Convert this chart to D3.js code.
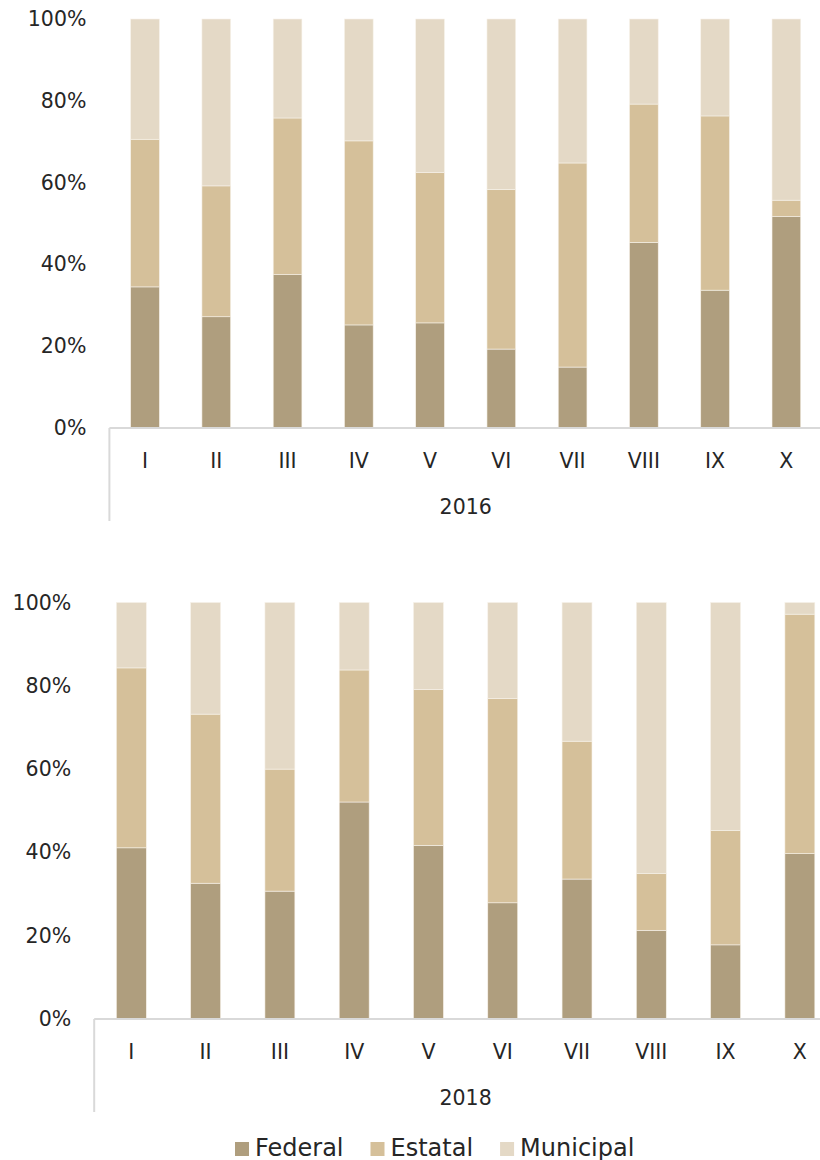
<!DOCTYPE html>
<html>
<head>
<meta charset="utf-8">
<script src="https://cdn.jsdelivr.net/npm/d3@7"></script>
<style>
  html, body { margin: 0; padding: 0; background: #ffffff; }
  svg { display: block; }
  text { font-family: "DejaVu Sans", "Noto Sans", sans-serif; fill: #262626; }
</style>
</head>
<body>
<svg id="chart" width="820" height="1160"></svg>
<script>
// Regions (Roman numerals) shared by both panels
const categories = ["I", "II", "III", "IV", "V", "VI", "VII", "VIII", "IX", "X"];
const seriesNames = ["Federal", "Estatal", "Municipal"];
const yTicks = [0, 0.2, 0.4, 0.6, 0.8, 1];

// Share of spending by level of government, 2016 (%)
const federal2016   = [34.5, 27.2, 37.5, 25.2, 25.7, 19.3, 14.9, 45.4, 33.7, 51.7];
const estatal2016   = [36.1, 32.0, 38.3, 45.0, 36.8, 39.0, 49.9, 33.8, 42.6, 4.0];
const municipal2016 = [29.4, 40.8, 24.2, 29.8, 37.5, 41.7, 35.2, 20.8, 23.7, 44.3];

// Share of spending by level of government, 2018 (%)
const federal2018   = [41.1, 32.6, 30.7, 52.1, 41.7, 27.9, 33.6, 21.3, 17.8, 39.7];
const estatal2018   = [43.2, 40.6, 29.3, 31.7, 37.4, 49.1, 33.1, 13.6, 27.5, 57.5];
const municipal2018 = [15.7, 26.8, 40.0, 16.2, 20.9, 23.0, 33.3, 65.1, 54.7, 2.8];

const colors = { Federal: "#af9e7e", Estatal: "#d5c09a", Municipal: "#e4d9c6" };
const FONT = "\"DejaVu Sans\", sans-serif";
const WIDTH = 820;

const svg = d3.select("#chart");

function drawPanel(opts) {
  const rows = categories.map((c, i) => ({
    cat: c,
    Federal: opts.federal[i],
    Estatal: opts.estatal[i],
    Municipal: opts.municipal[i]
  }));

  const stacked = d3.stack().keys(seriesNames).offset(d3.stackOffsetExpand)(rows);

  const x = d3.scaleBand()
    .domain(categories)
    .range([opts.left, opts.right])
    .paddingInner(0.597)
    .paddingOuter(0.2985);

  const y = d3.scaleLinear().domain([0, 1]).range([opts.bottom, opts.top]);

  const g = svg.append("g");

  // stacked bars
  g.selectAll("g.layer")
    .data(stacked)
    .join("g")
    .attr("class", "layer")
    .attr("fill", d => colors[d.key])
    .selectAll("rect")
    .data(d => d)
    .join("rect")
    .attr("x", d => x(d.data.cat))
    .attr("width", x.bandwidth())
    .attr("y", d => y(d[1]))
    .attr("height", d => y(d[0]) - y(d[1]))
    .attr("stroke", "#f7f2ea")
    .attr("stroke-width", 0.6);

  // value axis (labels only)
  const yAxis = g.append("g")
    .attr("transform", `translate(${opts.left},0)`)
    .call(d3.axisLeft(y).tickValues(yTicks).tickFormat(d3.format(".0%")).tickSize(0).tickPadding(23));
  yAxis.select(".domain").remove();
  yAxis.selectAll("text").style("font-size", "20.5px").attr("fill", "#262626")
    .style("font-family", FONT);

  // category axis (the plot area runs slightly past the page edge)
  const xAxis = g.append("g")
    .attr("transform", `translate(0,${opts.bottom})`)
    .call(d3.axisBottom(x).tickSize(0).tickPadding(0));
  xAxis.select(".domain").attr("stroke", "#d9d9d9").attr("stroke-width", 2)
    .attr("d", `M${opts.left},0H${Math.min(opts.right, WIDTH)}`);
  xAxis.selectAll("text").style("font-size", "20.5px").attr("fill", "#262626")
    .style("font-family", FONT)
    .attr("dy", null).attr("y", 40);

  // group divider on the left of the category axis
  g.append("line")
    .attr("x1", opts.left).attr("x2", opts.left)
    .attr("y1", opts.bottom).attr("y2", opts.bottom + 93)
    .attr("stroke", "#d9d9d9").attr("stroke-width", 2);

  // year label under the categories
  g.append("text")
    .attr("x", (opts.left + opts.right) / 2)
    .attr("y", opts.bottom + 86)
    .attr("text-anchor", "middle")
    .style("font-size", "20.5px")
    .text(opts.year);
}

drawPanel({
  year: "2016",
  federal: federal2016, estatal: estatal2016, municipal: municipal2016,
  left: 109.4, right: 822, top: 19, bottom: 428
});

drawPanel({
  year: "2018",
  federal: federal2018, estatal: estatal2018, municipal: municipal2018,
  left: 94.2, right: 837, top: 602.5, bottom: 1019
});

// legend
const legend = svg.append("g").attr("transform", "translate(235,1148)");
let cursor = 0;
seriesNames.forEach(name => {
  const item = legend.append("g").attr("transform", `translate(${cursor},0)`);
  item.append("rect")
    .attr("x", 0).attr("y", -6)
    .attr("width", 14).attr("height", 14)
    .attr("fill", colors[name]);
  const t = item.append("text")
    .attr("x", 20).attr("y", 7.5)
    .style("font-size", "24px")
    .text(name);
  cursor += 20 + t.node().getComputedTextLength() + 27;
});
</script>
</body>
</html>
